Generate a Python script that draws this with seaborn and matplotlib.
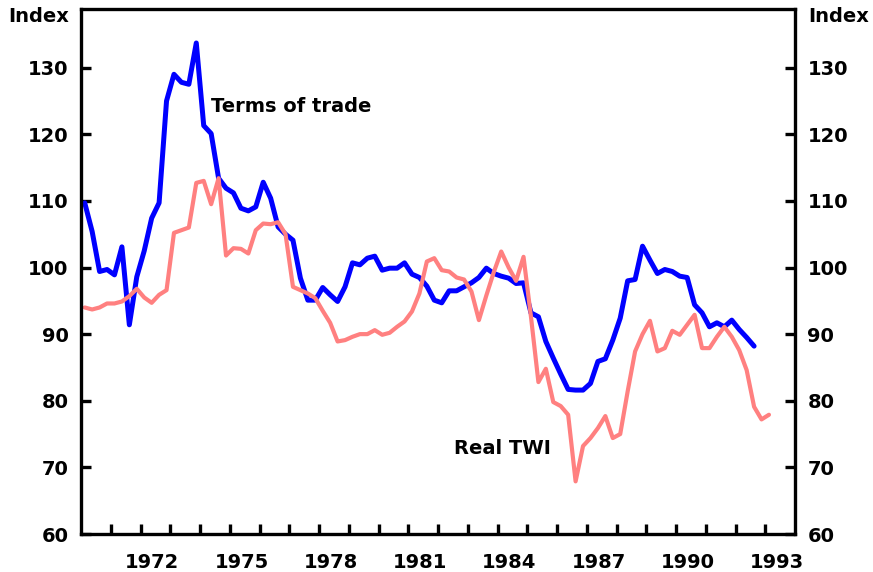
import numpy as np
import pandas as pd
import matplotlib
matplotlib.use("Agg")
import matplotlib.pyplot as plt
import seaborn as sns

# quarterly series, first quarter 1970
terms_of_trade = [
    109.7, 105.4, 99.4, 99.7, 98.9, 103.1, 91.4, 98.6, 102.5, 107.4,
    109.7, 125.0, 129.0, 127.8, 127.5, 133.7, 121.3, 120.1, 113.4, 111.9,
    111.2, 108.9, 108.5, 109.1, 112.8, 110.4, 106.1, 105.0, 104.1, 98.4,
    95.1, 95.1, 97.0, 95.9, 94.9, 97.1, 100.7, 100.4, 101.4, 101.7,
    99.6, 99.9, 99.9, 100.7, 99.0, 98.5, 97.2, 95.1, 94.7, 96.5,
    96.5, 97.1, 97.7, 98.5, 99.9, 99.1, 98.7, 98.4, 97.6, 97.7,
    93.2, 92.6, 88.9, 86.4, 84.0, 81.7, 81.6, 81.6, 82.6, 85.9,
    86.3, 89.1, 92.4, 98.0, 98.2, 103.2, 101.1, 99.1, 99.7, 99.4,
    98.7, 98.5, 94.4, 93.2, 91.1, 91.7, 91.1, 92.1, 90.7, 89.5,
    88.2,
]
real_twi = [
    94.0, 93.7, 94.0, 94.6, 94.6, 94.9, 95.7, 96.8, 95.5, 94.7,
    95.9, 96.6, 105.2, 105.6, 106.0, 112.7, 113.0, 109.5, 113.4, 101.8,
    102.9, 102.8, 102.1, 105.6, 106.6, 106.5, 106.8, 105.0, 97.1, 96.6,
    96.1, 95.4, 93.5, 91.7, 88.9, 89.1, 89.6, 90.0, 90.0, 90.6,
    89.9, 90.2, 91.1, 91.9, 93.4, 96.1, 100.9, 101.4, 99.6, 99.4,
    98.5, 98.2, 96.4, 92.1, 95.8, 99.3, 102.4, 100.0, 98.0, 101.6,
    92.6, 82.8, 84.8, 79.8, 79.2, 77.9, 67.9, 73.2, 74.4, 75.9,
    77.7, 74.4, 75.0, 81.4, 87.4, 90.0, 92.0, 87.4, 87.9, 90.5,
    89.9, 91.4, 92.9, 87.9, 87.9, 89.6, 91.1, 89.6, 87.6, 84.6,
    79.1, 77.2, 77.9,
]
year_labels = [1972, 1975, 1978, 1981, 1984, 1987, 1990, 1993]
y_ticks = [60, 70, 80, 90, 100, 110, 120, 130]

# plot each quarter at its mid point
tot = pd.DataFrame({"date": 1970.125 + 0.25 * np.arange(len(terms_of_trade)),
                    "value": terms_of_trade})
twi = pd.DataFrame({"date": 1970.125 + 0.25 * np.arange(len(real_twi)),
                    "value": real_twi})

sns.set_style("ticks")
plt.rcParams["font.family"] = ["DejaVu Sans"]
plt.rcParams["font.weight"] = "bold"
plt.rcParams["text.color"] = "black"
plt.rcParams["xtick.color"] = "black"
plt.rcParams["ytick.color"] = "black"
plt.rcParams["xtick.labelcolor"] = "black"
plt.rcParams["ytick.labelcolor"] = "black"

fig = plt.figure(figsize=(8.73, 5.72), dpi=100)
ax = fig.add_axes([81 / 873, 1 - 534 / 572, 714 / 873, 525 / 572])

sns.lineplot(data=tot, x="date", y="value", color="#0000ff", linewidth=3.6, ax=ax)
sns.lineplot(data=twi, x="date", y="value", color="#ff8080", linewidth=3.0, ax=ax)

ax.set_xlim(1970, 1994)
ax.set_ylim(60, 138.8)
ax.set_xlabel("")
ax.set_ylabel("")

for s in ax.spines.values():
    s.set_visible(True)
    s.set_linewidth(2.4)
    s.set_color("black")

ax.set_yticks(y_ticks)
ax.set_yticklabels([str(v) for v in y_ticks], fontsize=14, fontweight="bold")
ax.tick_params(axis="y", direction="in", length=7, width=2.4, pad=9,
               colors="black", left=True, right=True,
               labelleft=True, labelright=True)

ax.set_xticks(range(1971, 1994))
ax.set_xticklabels([])
ax.tick_params(axis="x", which="major", direction="in", length=7, width=2.4,
               colors="black")
ax.set_xticks([y + 0.4 for y in year_labels], minor=True)
ax.set_xticklabels([str(y) for y in year_labels], minor=True,
                   fontsize=14, fontweight="bold")
ax.tick_params(axis="x", which="minor", length=0, pad=14, colors="black")
ax.tick_params(axis="y", which="minor", length=0)

ax.text(1974.38, 124.1, "Terms of trade", fontsize=14, fontweight="bold",
        color="black", ha="left", va="center")
ax.text(1982.54, 72.9, "Real TWI", fontsize=14, fontweight="bold",
        color="black", ha="left", va="center")

fig.text(8 / 873, 1 - 17 / 572, "Index", fontsize=14, fontweight="bold",
         color="black", ha="left", va="center")
fig.text(808 / 873, 1 - 17 / 572, "Index", fontsize=14, fontweight="bold",
         color="black", ha="left", va="center")

fig.savefig("out.png", dpi=100)
